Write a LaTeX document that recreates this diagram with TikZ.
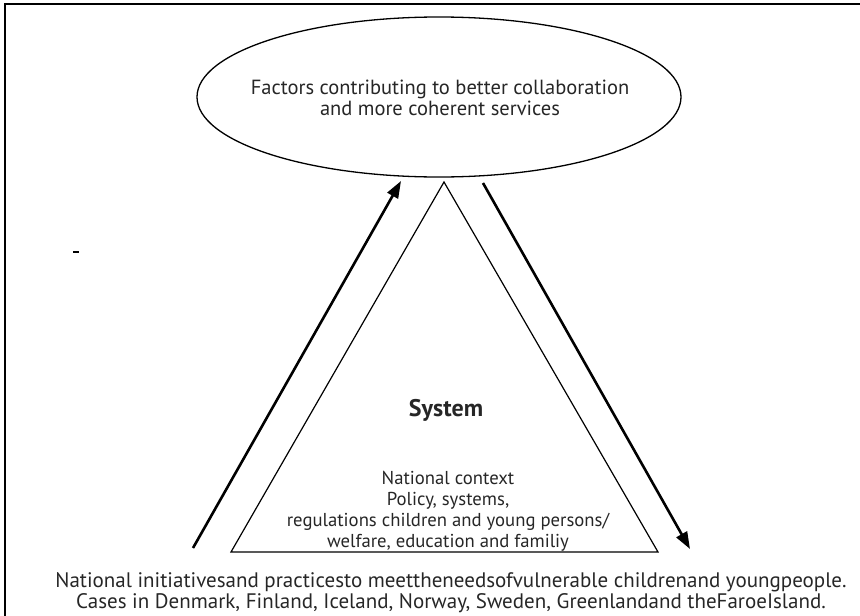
\documentclass[tikz,border=0pt]{standalone}
\usepackage{fontspec}
\setmainfont{PT Sans}
\usetikzlibrary{arrows.meta,shapes.geometric}
\begin{document}
\begin{tikzpicture}[x=1pt,y=-1pt,
  font=\fontsize{20.5}{21}\selectfont,
  arr/.style={line width=2.6pt,-{Triangle[length=17pt,width=12pt]}},
  txt/.style={align=center,inner sep=0pt,text=black!85}]
\useasboundingbox (0,0) rectangle (860,616);
\coordinate (fb) at (5,616);
\coordinate (fc) at (5,4);
\coordinate (fr) at (860,4);
\draw[line width=2.2pt] (fb) -- (fc) -- (fr);
\node[draw,ellipse,line width=1.3pt,minimum width=484pt,minimum height=160pt,inner sep=0pt] (E) at (439,97) {};
\node[txt] (Et) at (440,98) {Factors contributing to better collaboration\\and more coherent services};
\coordinate (T1) at (444,182);
\coordinate (T2) at (231,552);
\coordinate (T3) at (658,552);
\draw[line width=1.2pt,line join=miter] (T1) -- (T2) -- (T3) -- cycle;
\node[txt,font=\fontsize{24}{24}\selectfont\bfseries] (S) at (446,410) {System};
\node[txt,font=\fontsize{18.7}{21}\selectfont] (N) at (448,511) {National context\\Policy, systems,\\regulations children and young persons/\\welfare, education and familiy};
\node[txt,font=\fontsize{21}{21}\selectfont] (B) at (451,593) {National initiativesand practicesto meettheneedsofvulnerable childrenand youngpeople.\\Cases in Denmark, Finland, Iceland, Norway, Sweden, Greenlandand theFaroeIsland.};
\coordinate (l0) at (193,548);
\coordinate (l1) at (401,181);
\coordinate (r0) at (483,183);
\coordinate (r1) at (690,549);
\draw[arr] (l0) -- (l1);
\draw[arr] (r0) -- (r1);
\coordinate (d0) at (73,252);
\coordinate (d1) at (79,252);
\draw[line width=2pt] (d0) -- (d1);
\end{tikzpicture}
\end{document}
